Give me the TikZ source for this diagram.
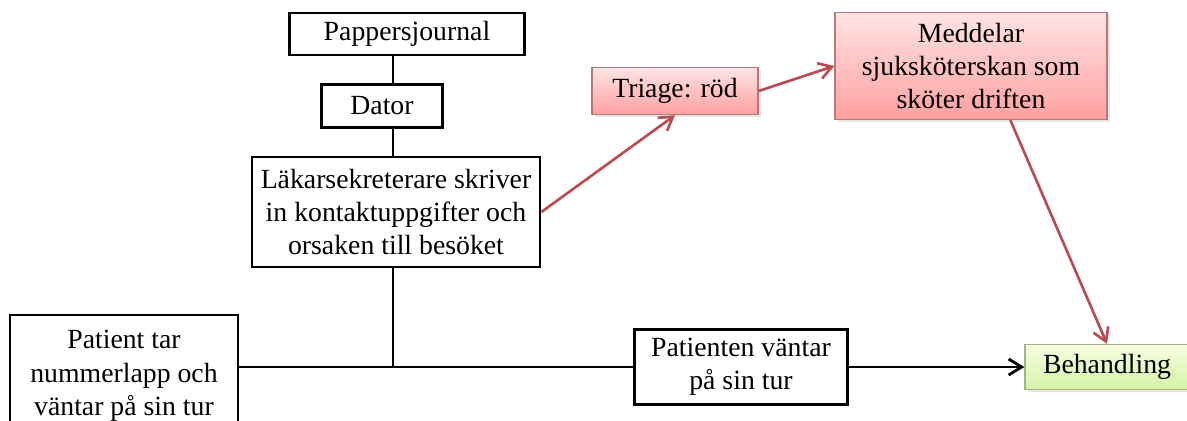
\documentclass[tikz,border=0pt]{standalone}
\usepackage{fontspec}
\setmainfont{Liberation Serif}
\usetikzlibrary{arrows.meta,shadows}

\definecolor{rodlinje}{RGB}{185,75,82}
\definecolor{rodkant}{RGB}{185,120,120}
\definecolor{rodljus}{RGB}{255,228,228}
\definecolor{rodmork}{RGB}{255,160,160}
\definecolor{gronkant}{RGB}{165,180,135}
\definecolor{gronljus}{RGB}{248,255,228}
\definecolor{gronmork}{RGB}{212,242,165}

\begin{document}
\begin{tikzpicture}[x=0.02cm, y=-0.02cm,
    every node/.style={font=\fontsize{15.8}{19}\selectfont, align=center, inner sep=0pt},
    ruta/.style={draw, line width=1.6pt, fill=white},
    rodruta/.style={draw=rodkant, line width=0.8pt, top color=rodljus, bottom color=rodmork,
        drop shadow={opacity=0.2, shadow xshift=1.5pt, shadow yshift=-1.5pt}},
    gronruta/.style={draw=gronkant, line width=0.8pt, top color=gronljus, bottom color=gronmork,
        drop shadow={opacity=0.2, shadow xshift=1.5pt, shadow yshift=-1.5pt}},
    svartpil/.style={line width=1.6pt, -{Straight Barb[length=2.6mm, width=3.2mm]}},
    rodpil/.style={rodlinje, line width=1.5pt, -{Straight Barb[length=2.6mm, width=3.2mm]}}]
    \useasboundingbox (0,0) rectangle (1187,421);

    \node[ruta, minimum width=4.7cm, minimum height=0.84cm] (pj) at (407,34) {Pappersjournal};
    \node[ruta, minimum width=2.42cm, minimum height=0.86cm] (dator) at (382,106) {Dator};
    \node[ruta, minimum width=5.76cm, minimum height=2.2cm] (lak) at (396,212)
        {Läkarsekreterare skriver\\in kontaktuppgifter och\\orsaken till besöket};
    \node[ruta, minimum width=4.56cm, minimum height=2.44cm] (pat) at (124,376)
        {Patient tar\\nummerlapp och\\väntar på sin tur};
    \node[ruta, minimum width=4.26cm, minimum height=1.5cm] (vantar) at (741,367)
        {Patienten väntar\\på sin tur};
    \node[gronruta, minimum width=3.28cm, minimum height=0.9cm] (beh) at (1107,367) {Behandling};
    \node[rodruta, minimum width=3.32cm, minimum height=0.94cm] (triage) at (675,91) {Triage: röd};
    \node[rodruta, minimum width=5.44cm, minimum height=2.14cm] (medd) at (971,66)
        {Meddelar\\sjuksköterskan som\\sköter driften};

    \coordinate (knut) at (393,367);

    % journal - dator - sekreterare
    \draw[line width=1.6pt] (knut |- pj.south) -- (knut |- dator.north);
    \draw[line width=1.6pt] (knut |- dator.south) -- (knut |- lak.north);
    \draw[line width=1.6pt] (knut |- lak.south) -- (knut);

    % patientens väg
    \draw[line width=1.6pt] (pat.east |- knut) -- (vantar.west);
    \draw[svartpil] (vantar.east) -- (beh.west);

    % röd triage
    \draw[rodpil] (lak.east) -- (triage.south);
    \draw[rodpil] (triage.east) -- (medd.west);
    \draw[rodpil] (medd.-54) -- (beh.north);
\end{tikzpicture}
\end{document}
